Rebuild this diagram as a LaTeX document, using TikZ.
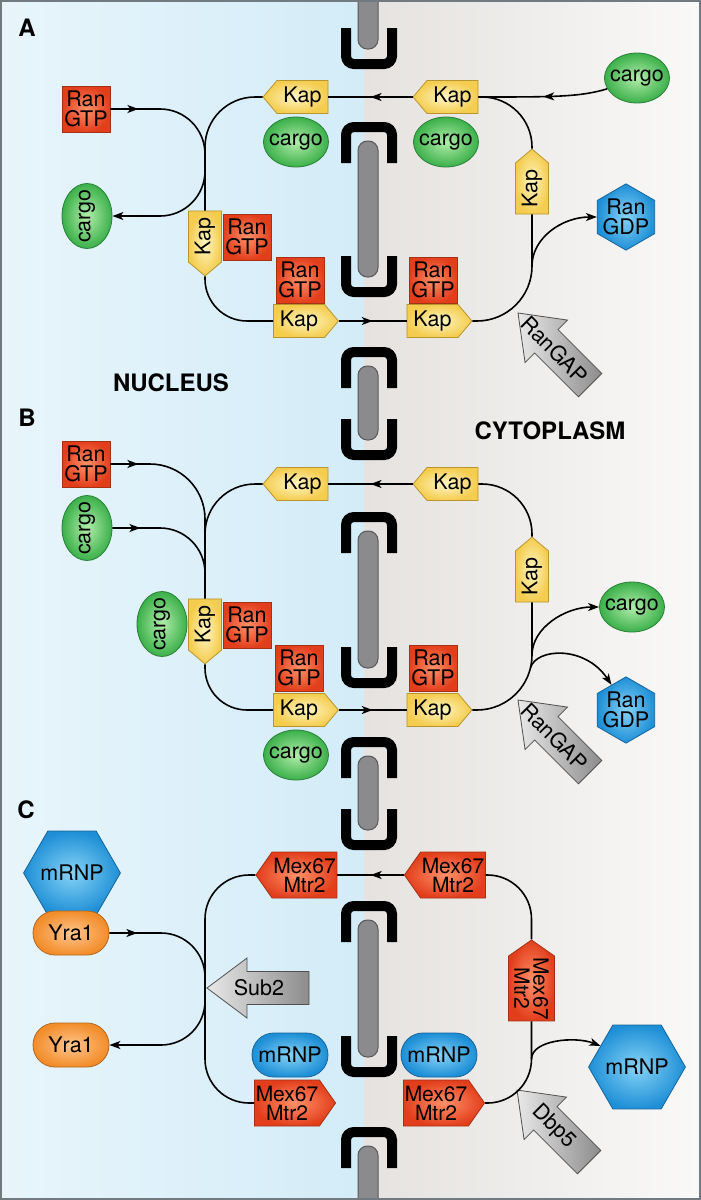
\documentclass[tikz,border=0pt]{standalone}
\usepackage{fontspec}
\setmainfont{TeX Gyre Heros}
\usetikzlibrary{shapes.symbols,shapes.geometric,arrows.meta,decorations.markings}

\definecolor{nucleuslight}{HTML}{E8F5FB}
\definecolor{nucleusdark}{HTML}{D3ECF8}
\definecolor{cytodark}{HTML}{E5E2DF}
\definecolor{cytolight}{HTML}{F9F9F8}
\definecolor{kapin}{HTML}{FFF6C2}
\definecolor{kapout}{HTML}{F4CC4E}
\definecolor{kapline}{HTML}{B89530}
\definecolor{ranin}{HTML}{FF9068}
\definecolor{ranout}{HTML}{E23E1C}
\definecolor{ranline}{HTML}{A53215}
\definecolor{cargoin}{HTML}{B2EDAA}
\definecolor{cargoout}{HTML}{3BB04A}
\definecolor{cargoline}{HTML}{2A8038}
\definecolor{bluein}{HTML}{86D3F6}
\definecolor{blueout}{HTML}{1E8FD6}
\definecolor{blueline}{HTML}{15649A}
\definecolor{yrain}{HTML}{FFC68E}
\definecolor{yraout}{HTML}{F28D2B}
\definecolor{yraline}{HTML}{B5661C}
\definecolor{grayin}{HTML}{E8E8E8}
\definecolor{grayout}{HTML}{8C8C8C}
\definecolor{grayline}{HTML}{505050}
\definecolor{rodfill}{HTML}{8B8B8E}
\definecolor{rodline}{HTML}{58585A}
\definecolor{framegray}{HTML}{707A80}

\newcommand{\tagfont}{\fontsize{21.5}{20.5}\selectfont}
\newcommand{\labelfont}{\fontsize{24}{24}\selectfont\bfseries}

\tikzset{
	kaptag/.style={signal, signal pointer angle=100, draw=kapline, line width=0.8pt, inner color=kapin, outer color=kapout, minimum width=65pt, minimum height=33pt, inner sep=0pt, font=\tagfont},
	mextag/.style={signal, signal pointer angle=110, draw=ranline, line width=0.8pt, inner color=ranin, outer color=ranout, minimum width=81pt, minimum height=46pt, inner sep=0pt, font=\fontsize{21}{19}\selectfont, align=center},
	ranbox/.style={rectangle, draw=ranline, line width=0.8pt, inner color=ranin, outer color=ranout, minimum width=48pt, minimum height=46pt, inner sep=0pt, font=\tagfont, align=center},
	cargoblob/.style={ellipse, draw=cargoline, line width=0.8pt, inner color=cargoin, outer color=cargoout, minimum width=65pt, minimum height=50pt, inner xsep=-12pt, inner ysep=0pt, font=\tagfont},
	gdphex/.style={regular polygon, regular polygon sides=6, shape border rotate=30, draw=blueline, line width=0.8pt, inner color=bluein, outer color=blueout, minimum size=64pt, inner sep=-3pt, font=\tagfont, align=center},
	mrnphex/.style={regular polygon, regular polygon sides=6, draw=blueline, line width=0.8pt, inner color=bluein, outer color=blueout, minimum size=80pt, inner sep=-2pt, font=\tagfont},
	mrnppill/.style={rectangle, rounded corners=21.9pt, draw=blueline, line width=0.8pt, inner color=bluein, outer color=blueout, minimum width=76pt, minimum height=44pt, inner sep=0pt, font=\tagfont},
	yrapill/.style={rectangle, rounded corners=21.9pt, draw=yraline, line width=0.8pt, inner color=yrain, outer color=yraout, minimum width=76pt, minimum height=44pt, inner sep=0pt, font=\tagfont},
	flow/.style={line width=1.6pt, black},
	flowtip/.style={-{Stealth[length=11pt,width=8pt,inset=3pt]}},
	midarrow/.style={postaction={decorate, decoration={markings, mark=at position #1 with {\arrow{Stealth[length=11pt,width=8pt,inset=3pt]}}}}},
	panellabel/.style={font=\labelfont},
	porerod/.style={draw=rodline, fill=rodfill, line width=1pt, rounded corners=9.4pt},
	porecap/.style={line width=10pt, rounded corners=8pt},
	grayarrow/.style={draw=grayline, line width=0.8pt, left color=grayin, right color=grayout}
}

\newcommand{\Pore}[2]{
	\draw[porerod] (358,#1+19) rectangle (378,#2-20);
	\draw[porecap] (346,#1+41) -- (346,#1+5) -- (392,#1+5) -- (392,#1+41);
	\draw[porecap] (346,#2-41) -- (346,#2-5) -- (392,#2-5) -- (392,#2-41);
}
\newcommand{\GrayArrow}[4]{
	\begin{scope}[shift={(#2)}, rotate=#3]
		\shade[grayarrow] (0,0) -- (40,-30) -- (40,-16.5) -- (102,-16.5) -- (102,16.5) -- (40,16.5) -- (40,30) -- cycle;
		\node[transform shape, font=\tagfont] (#1) at (52,0) {#4};
	\end{scope}
}

\begin{document}
\begin{tikzpicture}[x=1pt, y=-1pt]
	\useasboundingbox (0,0) rectangle (701,1200);
	\clip (0,0) rectangle (701,1200);
	\shade[left color=nucleuslight, right color=nucleusdark] (0,0) rectangle (364,1200);
	\shade[left color=cytodark, right color=cytolight] (364,0) rectangle (701,1200);
	\Pore{-44}{69}
	\Pore{122}{297}
	\Pore{347}{460}
	\Pore{512}{688}
	\Pore{737}{850}
	\Pore{901}{1077}
	\Pore{1127}{1240}

	\node[panellabel] (labA) at (27,28) {A};
	\node[panellabel] (labB) at (27,418) {B};
	\node[panellabel] (labC) at (26,810) {C};
	\node[panellabel] (nucleus) at (171,383) {NUCLEUS};
	\node[panellabel] (cytoplasm) at (550,431) {CYTOPLASM};

	\node[ranbox] (ranA1) at (86,109) {Ran\\GTP};
	\node[cargoblob, rotate=90] (cargoA1) at (87,216) {cargo};
	\node[kaptag, signal to=west] (kapA1) at (302.5,97) {Kap};
	\node[cargoblob] (cargoA2) at (296,142) {cargo};
	\node[kaptag, signal to=west, rotate=90] (kapA2) at (205,236.5) {Kap};
	\node[ranbox] (ranA2) at (247,237) {Ran\\GTP};
	\node[ranbox] (ranA3) at (300,280) {Ran\\GTP};
	\node[kaptag, signal to=east] (kapA3) at (299,321) {Kap};
	\node[kaptag, signal to=east] (kapA4) at (432.5,321) {Kap};
	\node[ranbox] (ranA4) at (433,280) {Ran\\GTP};
	\node[kaptag, signal to=east, rotate=90] (kapA5) at (532,188.5) {Kap};
	\node[kaptag, signal to=west] (kapA6) at (452.5,97) {Kap};
	\node[cargoblob] (cargoA3) at (446,142) {cargo};
	\node[cargoblob] (cargoA4) at (637,78) {cargo};
	\node[gdphex] (gdpA) at (626,217) {Ran\\GDP};
	\GrayArrow{gapA}{518,313}{-45}{RanGAP}

	\coordinate (inA) at (205,160);
	\coordinate (outA) at (205,165);
	\coordinate (gdpjA) at (532,266);
	\draw[flow, rounded corners=50pt] (kapA1.west) -| (kapA2.east);
	\draw[flow, rounded corners=45pt, midarrow=28pt] (ranA1.east) -| (inA);
	\draw[flow, flowtip, rounded corners=45pt] (outA) |- (cargoA1.south);
	\draw[flow, rounded corners=42pt] (kapA2.west) |- (kapA3.west);
	\draw[flow, midarrow=0.5] (kapA3.east) -- (kapA4.west);
	\draw[flow, rounded corners=55pt] (kapA4.east) -| (kapA5.west);
	\draw[flow, flowtip] (gdpjA) .. controls (532,238) and (562,217) .. (gdpA.west);
	\draw[flow, rounded corners=50pt] (kapA6.east) -| (kapA5.east);
	\draw[flow, midarrow=0.5] (cargoA4.200) .. controls (580,97) and (555,97) .. (kapA6.east);
	\draw[flow, midarrow=0.5] (kapA6.west) -- (kapA1.east);

	\node[ranbox] (ranB1) at (86,464) {Ran\\GTP};
	\node[cargoblob, rotate=90] (cargoB1) at (87,528) {cargo};
	\node[kaptag, signal to=west] (kapB1) at (302.5,484) {Kap};
	\node[kaptag, signal to=west, rotate=90] (kapB2) at (205,624.5) {Kap};
	\node[cargoblob, rotate=90] (cargoB2) at (162,624) {cargo};
	\node[ranbox] (ranB2) at (247,625) {Ran\\GTP};
	\node[ranbox] (ranB3) at (299,668) {Ran\\GTP};
	\node[kaptag, signal to=east] (kapB3) at (299,710) {Kap};
	\node[cargoblob] (cargoB3) at (296,755) {cargo};
	\node[kaptag, signal to=east] (kapB4) at (432.5,710) {Kap};
	\node[ranbox] (ranB4) at (433,668) {Ran\\GTP};
	\node[kaptag, signal to=east, rotate=90] (kapB5) at (532,576.5) {Kap};
	\node[kaptag, signal to=west] (kapB6) at (452.5,484) {Kap};
	\node[cargoblob] (cargoB4) at (632,607) {cargo};
	\node[gdphex] (gdpB) at (626,710) {Ran\\GDP};
	\GrayArrow{gapB}{518,700}{-45}{RanGAP}

	\coordinate (ranjB) at (205,540);
	\coordinate (cargojB) at (205,580);
	\coordinate (cargooutB) at (532,655);
	\coordinate (gdpjB) at (530.4,668);
	\draw[flow, rounded corners=50pt] (kapB1.west) -| (kapB2.east);
	\draw[flow, rounded corners=55pt, midarrow=28pt] (ranB1.east) -| (ranjB);
	\draw[flow, rounded corners=45pt, midarrow=28pt] (cargoB1.south) -| (cargojB);
	\draw[flow, rounded corners=42pt] (kapB2.west) |- (kapB3.west);
	\draw[flow, midarrow=0.5] (kapB3.east) -- (kapB4.west);
	\draw[flow, rounded corners=55pt] (kapB4.east) -| (kapB5.west);
	\draw[flow, flowtip] (cargooutB) .. controls (532,628) and (565,607) .. (cargoB4.west);
	\draw[flow, flowtip] (gdpjB) .. controls (536,648) and (585,645) .. (gdpB.120);
	\draw[flow, rounded corners=50pt] (kapB6.east) -| (kapB5.east);
	\draw[flow, midarrow=0.5] (kapB6.west) -- (kapB1.east);

	\node[mrnphex] (mrnpC1) at (72,873) {mRNP};
	\node[yrapill] (yraC1) at (71,933) {Yra1};
	\node[yrapill] (yraC2) at (71,1045) {Yra1};
	\node[mextag, signal to=west] (mexC1) at (304.5,875) {Mex67\\Mtr2};
	\node[mrnppill] (mrnpC2) at (290,1055) {mRNP};
	\node[mextag, signal to=east] (mexC2) at (287,1103) {Mex67\\Mtr2};
	\node[mextag, signal to=west] (mexC3) at (453,875) {Mex67\\Mtr2};
	\node[mextag, signal to=west, rotate=-90] (mexC4) at (531.5,988.5) {Mex67\\Mtr2};
	\node[mrnppill] (mrnpC3) at (439,1055) {mRNP};
	\node[mextag, signal to=east] (mexC5) at (436,1103) {Mex67\\Mtr2};
	\node[mrnphex] (mrnpC4) at (637,1067) {mRNP};
	\GrayArrow{subC}{207,988}{0}{Sub2}
	\GrayArrow{dbpC}{517,1090}{-45}{Dbp5}

	\coordinate (yinC) at (205,980);
	\coordinate (youtC) at (205,995);
	\coordinate (mrnpjC) at (531.5,1059);
	\draw[flow, midarrow=0.5] (mexC3.west) -- (mexC1.east);
	\draw[flow, rounded corners=44pt] (mexC1.west) -| (youtC) |- (mexC2.west);
	\draw[flow, rounded corners=44pt, midarrow=28pt] (yraC1.east) -| (yinC);
	\draw[flow, flowtip, rounded corners=44pt] (youtC) |- (yraC2.east);
	\draw[flow, rounded corners=44pt] (mexC3.east) -| (mexC4.west);
	\draw[flow, rounded corners=44pt] (mexC5.east) -| (mexC4.east);
	\draw[flow, flowtip] (mrnpjC) .. controls (531.5,1040) and (575,1036) .. (mrnpC4.150);

	\draw[framegray, line width=4pt] (0,0) rectangle (701,1200);
\end{tikzpicture}
\end{document}
